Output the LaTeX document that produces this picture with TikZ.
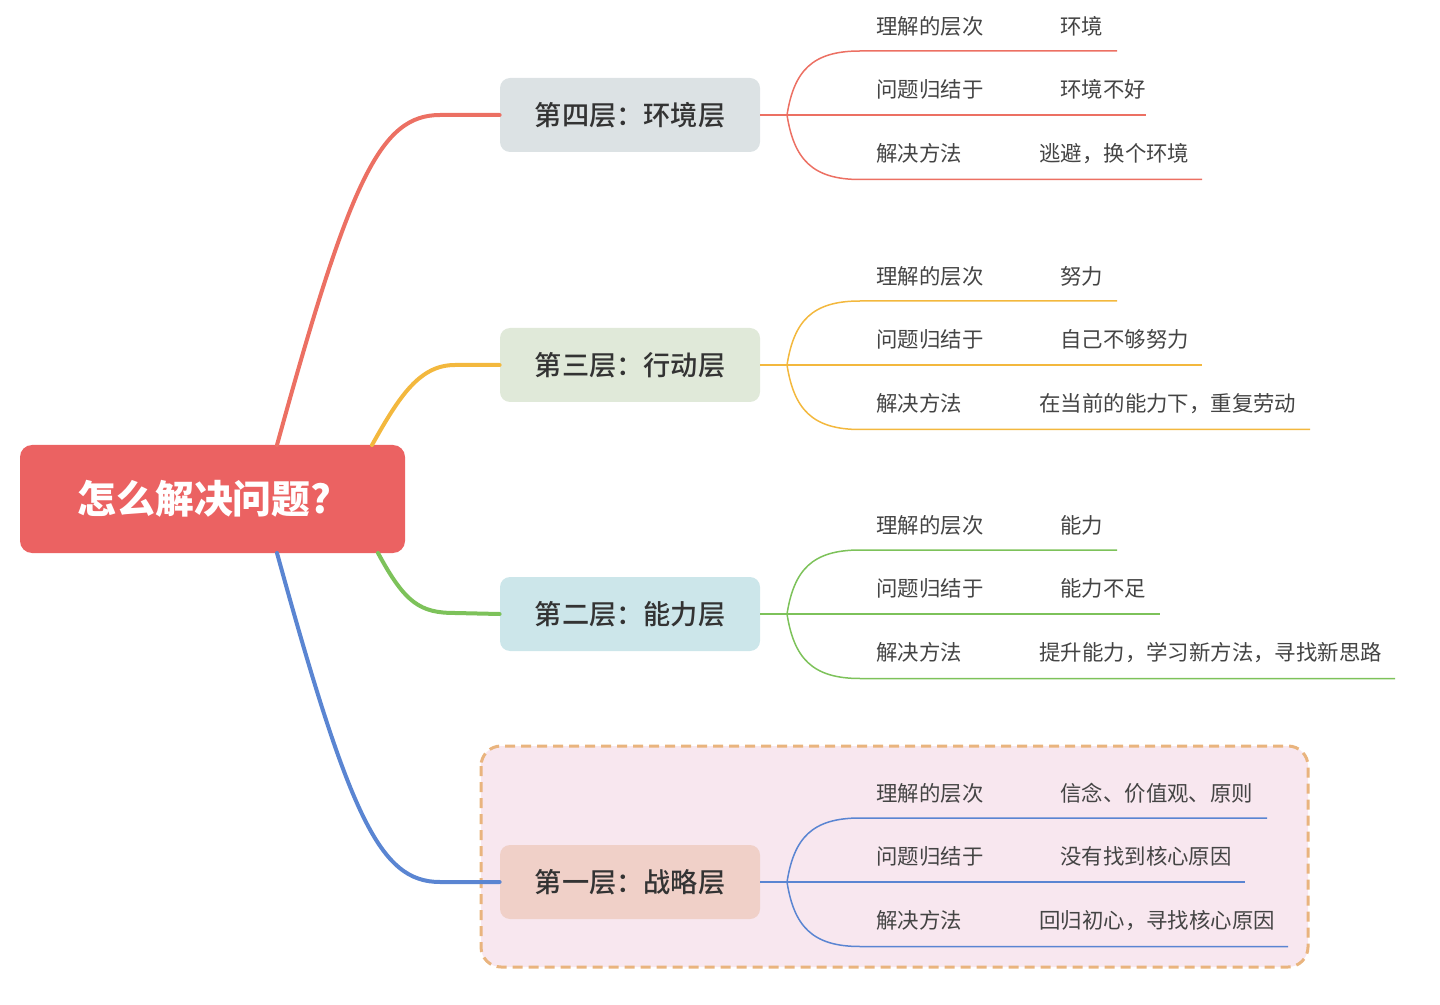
\documentclass[tikz,border=0pt]{standalone}
\usepackage{fontspec}
\setmainfont{Noto Sans CJK SC}
\newfontfamily\cjkmed{Noto Sans CJK SC Medium}
\definecolor{rootfill}{HTML}{EB6262}
\definecolor{bfA}{HTML}{DCE2E4}
\definecolor{bfB}{HTML}{E0E9D9}
\definecolor{bfC}{HTML}{CCE6EA}
\definecolor{bfD}{HTML}{F0D0C8}
\definecolor{framefill}{HTML}{F8E7EF}
\definecolor{framedraw}{HTML}{E9B47E}
\definecolor{lred}{HTML}{EC7063}
\definecolor{lorange}{HTML}{F3B83E}
\definecolor{lgreen}{HTML}{7DC25A}
\definecolor{lblue}{HTML}{5A85D2}
\definecolor{tdark}{HTML}{333333}
\definecolor{tsub}{HTML}{444444}
\begin{document}
\begin{tikzpicture}[x=0.5pt,y=-0.5pt,
  rootbox/.style={fill=rootfill,rounded corners=6pt,minimum width=192.5pt,minimum height=54pt,inner sep=0pt,text=white,font=\fontsize{19.4}{22}\selectfont\bfseries},
  layerbox/.style={rounded corners=5pt,minimum width=130pt,minimum height=37pt,inner sep=0pt,text=tdark,font=\fontsize{13.6}{16}\selectfont\cjkmed},
  mainline/.style={line width=2pt,line cap=round},
  subline/.style={line width=0.75pt},
  lab/.style={anchor=west,inner sep=0pt,text=tsub,font=\fontsize{10.7}{13}\selectfont},
  framebox/.style={fill=framefill,draw=framedraw,line width=1.5pt,dash pattern=on 5pt off 3pt,rounded corners=10pt}
]
\useasboundingbox (0,0) rectangle (1440,1005);
% frame
\draw[framebox] (481,746) rectangle (1308,967);
% nodes
\node[rootbox] (root) at (212.5,499) {怎么解决问题?\kern8pt};
\node[layerbox,fill=bfA] (b4) at (630,115) {第四层：环境层};
\node[layerbox,fill=bfB] (b3) at (630,365) {第三层：行动层};
\node[layerbox,fill=bfC] (b2) at (630,614) {第二层：能力层};
\node[layerbox,fill=bfD] (b1) at (630,882) {第一层：战略层};
% main connectors
\coordinate (s4) at (277,445);
\coordinate (s3) at (372,445);
\coordinate (s2) at (378,553);
\coordinate (s1) at (277,553);
\draw[mainline,lred] (s4) .. controls (350,180) and (380,115) .. (440,115) -- (b4.west);
\draw[mainline,lorange] (s3) .. controls (400,395) and (420,365) .. (455,365) -- (b3.west);
\draw[mainline,lgreen] (s2) .. controls (405,603) and (420,613) .. (455,613) -- (b2.west);
\draw[mainline,lblue] (s1) .. controls (350,818) and (380,882) .. (440,882) -- (b1.west);
% sub branches
\foreach \n/\y/\c/\ea/\eb/\ec/\va/\vb/\vc in {
  4/115/lred/1117/1146/1202/环境/环境不好/逃避，换个环境,
  3/365/lorange/1117/1202/1310/努力/自己不够努力/在当前的能力下，重复劳动,
  2/614/lgreen/1117/1160/1395/能力/能力不足/提升能力，学习新方法，寻找新思路,
  1/882/lblue/1267/1245/1288/信念、价值观、原则/没有找到核心原因/回归初心，寻找核心原因}{
  \coordinate (f\n) at (787,\y);
  \coordinate (ea\n) at (\ea,\y-64);
  \coordinate (eb\n) at (\eb,\y);
  \coordinate (ec\n) at (\ec,\y+64.5);
  \draw[subline,\c] (b\n.east) -- (f\n) -- (eb\n);
  \draw[subline,\c] (f\n) .. controls (794,\y-44) and (812,\y-64) .. (860,\y-64) -- (ea\n);
  \draw[subline,\c] (f\n) .. controls (794,\y+44) and (812,\y+64.5) .. (860,\y+64.5) -- (ec\n);
  \node[lab] (la\n) at (876,\y-89) {理解的层次};
  \node[lab] (lb\n) at (876,\y-25.5) {问题归结于};
  \node[lab] (lc\n) at (876,\y+38.5) {解决方法};
  \node[lab] (va\n) at (1060,\y-89) {\va};
  \node[lab] (vb\n) at (1060,\y-25.5) {\vb};
  \node[lab] (vc\n) at (1039,\y+38.5) {\vc};
}
\end{tikzpicture}
\end{document}
